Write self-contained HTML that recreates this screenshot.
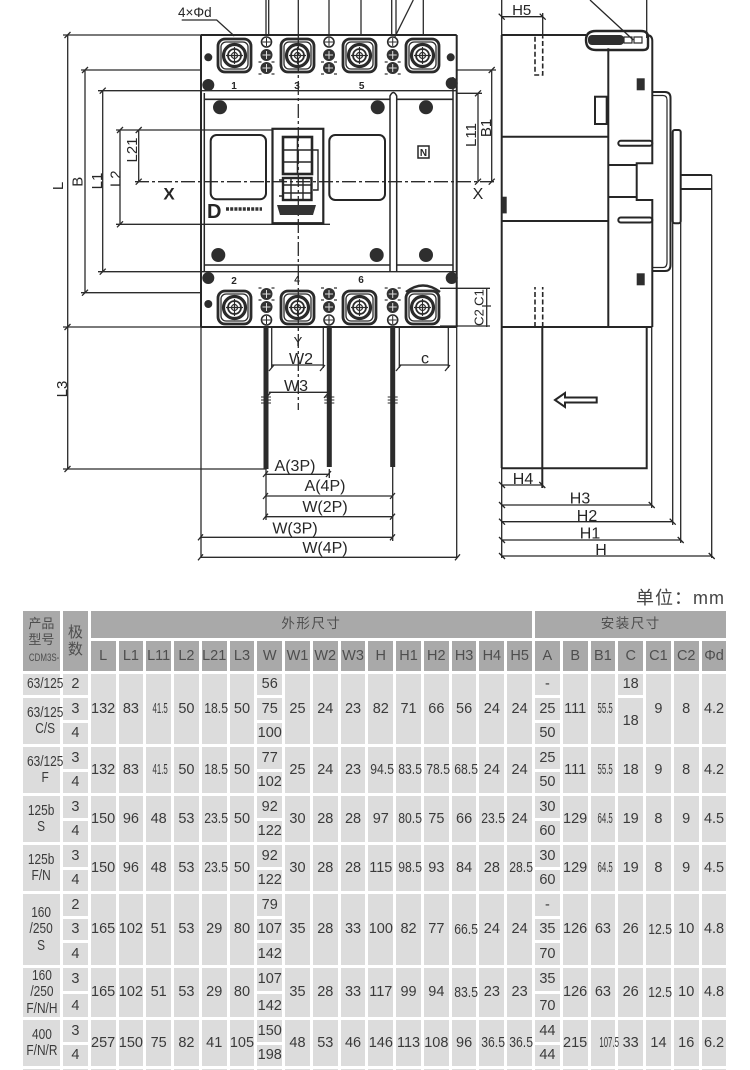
<!DOCTYPE html>
<html><head><meta charset="utf-8">
<style>
html,body{margin:0;padding:0;background:#fff;width:750px;height:1070px;overflow:hidden;}
#wrap{position:relative;width:750px;height:1070px;overflow:hidden;background:#fff;font-family:"Liberation Sans","Noto Sans CJK SC",sans-serif;}
svg text{font-family:"Liberation Sans",sans-serif;fill:#262626;}
.unit{position:absolute;left:636px;top:584px;font-size:18px;letter-spacing:1px;color:#444;font-family:"Liberation Sans","Noto Sans CJK SC",sans-serif;}
.t{position:absolute;left:19.7px;top:607.7px;width:709.8px;border-collapse:separate;border-spacing:3px 3px;table-layout:fixed;}
.t td,.t th{padding:0;background:#dcdcdc;color:#3a3a3a;font-size:14.5px;font-weight:normal;text-align:center;vertical-align:middle;white-space:nowrap;overflow:visible;line-height:16px;font-family:"Liberation Sans","Noto Sans CJK SC",sans-serif;}
.t th{background:#a9a9a9;color:#4e4e4e;}
.t tr.r{height:21.5px}
.t tr.h1{height:27px}
.t tr.h2{height:30px}
.t th.g{font-size:13.5px;letter-spacing:1.5px}
.d{display:inline-block;font-size:14.5px;transform:scaleX(.84);vertical-align:middle}
.k{display:inline-block;font-size:14.5px;transform:scaleX(.54);vertical-align:middle}
.m{display:inline-block;transform:scaleX(.82);line-height:16.5px}
.cdm{display:inline-block;font-size:11px;transform:scaleX(.72);line-height:14px}
.dash{font-weight:bold}
</style></head>
<body>
<div id="wrap">
<svg xmlns="http://www.w3.org/2000/svg" width="750" height="580" viewBox="0 0 750 580" style="position:absolute;left:0;top:0">
<defs>
 <g id="tm">
  <rect x="1" y="1" width="33" height="33" rx="7" fill="none" stroke="#2b2b2b" stroke-width="2.8"/>
  <rect x="4" y="4" width="27" height="27" rx="5" fill="none" stroke="#2b2b2b" stroke-width="1.3"/>
  <circle cx="17.5" cy="17.5" r="11" fill="none" stroke="#2b2b2b" stroke-width="3.2"/>
  <circle cx="17.5" cy="17.5" r="6.5" fill="none" stroke="#2b2b2b" stroke-width="1.8"/>
  <circle cx="17.5" cy="17.5" r="3" fill="none" stroke="#2b2b2b" stroke-width="1.2"/>
  <path d="M17.5 9v17M9 17.5h17" stroke="#2b2b2b" stroke-width="1.2"/>
 </g>
 <g id="sc">
  <circle cx="0" cy="13" r="6" fill="#333"/>
  <circle cx="0" cy="26" r="6" fill="#333"/>
  <path d="M-4 13h8M0 9v8M-4 26h8M0 22v8" stroke="#ddd" stroke-width="1"/>
  <path d="M-8 20h3M5 20h3M-8 32h3M5 32h3" stroke="#333" stroke-width="1.2"/>
  <circle cx="0" cy="0" r="5" fill="#fff" stroke="#2b2b2b" stroke-width="1.6"/>
  <path d="M-4 0h8M0 -4v8" stroke="#2b2b2b" stroke-width="1"/>
 </g>
</defs>

<!-- ===== FRONT VIEW ===== -->
<g stroke="#2b2b2b" fill="none" stroke-width="1.3">
 <path d="M266 0V35M268.7 0V35M298.3 0V35M329 0V35M361 0V35M391.7 0V35M396 0V35M423.3 0V35"/>
 <path d="M413.3 0L395 36.7"/>
 <path d="M181.7 20H216.7L234.3 36"/>
 <path d="M67.7 35V469M63 35H201M63 327H201M63 469H266"/>
 <path d="M85 70V292.7M81 70H201M81 292.7H201"/>
 <path d="M102.7 90.7V271.7M98 90.7H456.7M98 271.7H456.7"/>
 <path d="M120 130V224.3M116 130H272M116 224.3H330"/>
 <path d="M138.7 130V181.7"/>
 <path d="M64.5 38l6 -6M64.5 330l6 -6M64.5 472l6 -6M82 73l6 -6M82 295.7l6 -6M99.7 93.7l6 -6M99.7 274.7l6 -6M117 133l6 -6M117 227.3l6 -6M135.7 133l6 -6M135.7 184.7l6 -6"/>
 <path d="M135 181.7H496" stroke-dasharray="14 3 3 3"/>
 <path d="M298.3 35V410" stroke-dasharray="14 3 3 3"/>
 <path d="M478 93.3V181.7M456.7 93.3H482M491.7 70V181.7M456.7 70H496"/>
 <path d="M475 96.3l6 -6M475 184.7l6 -6M488.7 73l6 -6M488.7 184.7l6 -6"/>
 <path d="M440 288.3H490M440 326H490M486.7 288V327M482 306H491"/>
 <path d="M201 327V558M456.7 327V558"/>
 <path d="M271.7 327V368M323.3 327V368M399.3 327V368M448.3 327V368"/>
 <path d="M271.7 365H323.3M269 392.3H327M399.3 365H448.3"/>
 <path d="M266 469V520M329.3 469V478M392.7 467V541"/>
 <path d="M266 474.3H329.3M266 496H392.7M266 516.7H392.7M201 537.3H392.7M201 557.3H457.7"/>
 <path d="M269 371l5-6M320 371l5-6M266 398l5-6M324 398l5-6M396 371l5-6M445 371l5-6M263 477l5-6M326 477l5-6M263 499l5-6M390 499l5-6M263 519.7l5-6M390 519.7l5-6M198 540.3l5-6M390 540.3l5-6M198 560.3l5-6M455 560.3l5-6"/>
</g>

<g stroke="#262626" fill="none" stroke-width="2">
 <path d="M201 35H456.7M201 35V327M456.7 35V327M201 327H456.7"/>
 <path d="M204.3 93V272M453 77V277" stroke-width="1.5"/>
 <path d="M204.3 99.3H390M396.7 99.3H453M204.3 265H390M396.7 265H453" stroke-width="1.6"/>
 <path d="M390 272V96Q393.3 89 396.7 96V272" stroke-width="1.5"/>
 <rect x="210.7" y="135" width="55.3" height="64.3" rx="6"/>
 <rect x="329.3" y="135" width="55.7" height="65" rx="6"/>
 <rect x="272.5" y="128.8" width="50.8" height="94.4" stroke-width="2.2"/>
 <rect x="283" y="137" width="29" height="37" stroke-width="2.6"/>
 <path d="M297.5 137V174M283 150H312M283 162H312" stroke-width="1.6"/>
 <rect x="283" y="178" width="28.5" height="22" stroke-width="2.4"/>
 <path d="M283 185H311.5M283 193H311.5M291 178V200M303 178V200" stroke-width="1.4"/>
 <path d="M313 150H318V190H313M279 180H283M279 196H283" stroke-width="1.4"/>
 <rect x="418" y="146" width="11" height="12" stroke-width="1.5"/>
</g>
<path d="M277 205H316L313 215H280Z" fill="#333"/>
<path d="M226 209H262" stroke="#333" stroke-width="3.5" stroke-dasharray="3 1.2"/>
<text x="207" y="218" font-size="20" font-weight="bold">D</text>
<text x="423.5" y="156" font-size="10" font-weight="bold" text-anchor="middle">N</text>

<use href="#tm" x="217" y="38"/>
<use href="#tm" x="280" y="38"/>
<use href="#tm" x="342" y="38"/>
<use href="#tm" x="405" y="38"/>
<use href="#tm" x="217" y="290"/>
<use href="#tm" x="280" y="290"/>
<use href="#tm" x="342" y="290"/>
<use href="#tm" x="405" y="290"/>
<use href="#sc" x="266.5" y="42"/>
<use href="#sc" x="329" y="42"/>
<use href="#sc" x="392.7" y="42"/>
<g transform="translate(266.5,320) scale(1,-1)"><use href="#sc"/></g>
<g transform="translate(329,320) scale(1,-1)"><use href="#sc"/></g>
<g transform="translate(392.7,320) scale(1,-1)"><use href="#sc"/></g>
<path d="M406 292Q423 279 440 292" fill="none" stroke="#2b2b2b" stroke-width="2.5"/>

<g fill="#2e2e2e">
 <circle cx="220" cy="107.3" r="7"/><circle cx="377.7" cy="107.3" r="7"/><circle cx="426" cy="107.3" r="7"/>
 <circle cx="218.3" cy="255" r="7"/><circle cx="376.7" cy="255" r="7"/><circle cx="426" cy="255" r="7"/>
 <circle cx="208.3" cy="57.3" r="4"/><circle cx="208.3" cy="304" r="4"/><circle cx="450.7" cy="57.3" r="4"/>
 <circle cx="208.3" cy="85" r="6"/><circle cx="208.3" cy="278" r="6"/><circle cx="451.7" cy="83.3" r="6"/><circle cx="451.7" cy="278" r="6"/>
</g>

<g fill="#2b2b2b">
 <rect x="263.5" y="327" width="5" height="142"/>
 <rect x="326.8" y="327" width="5" height="140"/>
 <rect x="390.2" y="327" width="5" height="140"/>
</g>
<path d="M261 397h10M261 400h10M261 403h10M324.3 397h10M324.3 400h10M324.3 403h10M387.7 397h10M387.7 400h10M387.7 403h10" stroke="#2b2b2b" stroke-width="1"/>

<g font-size="15">
 <text x="178" y="17" font-size="13.5">4×Φd</text>
 <text transform="translate(58,186) rotate(-90)" text-anchor="middle" dy="5">L</text>
 <text transform="translate(77.5,181.7) rotate(-90)" text-anchor="middle" dy="5">B</text>
 <text transform="translate(97,181) rotate(-90)" text-anchor="middle" dy="5">L1</text>
 <text transform="translate(115.5,178.7) rotate(-90)" text-anchor="middle" dy="5">L2</text>
 <text transform="translate(132,150) rotate(-90)" text-anchor="middle" dy="5">L21</text>
 <text transform="translate(62,389) rotate(-90)" text-anchor="middle" dy="5">L3</text>
 <text transform="translate(471,135) rotate(-90)" text-anchor="middle" dy="5">L11</text>
 <text transform="translate(486,128) rotate(-90)" text-anchor="middle" dy="5">B1</text>
 <text transform="translate(479,297.5) rotate(-90)" text-anchor="middle" dy="4.5" font-size="13">C1</text>
 <text transform="translate(479,317.5) rotate(-90)" text-anchor="middle" dy="4.5" font-size="13">C2</text>
 <text x="169" y="199.5" font-size="17" font-weight="bold" text-anchor="middle">X</text>
 <text x="478" y="199" font-size="16" text-anchor="middle">X</text>
 <text x="234" y="89" font-size="10" font-weight="bold" text-anchor="middle">1</text>
 <text x="297" y="89" font-size="10" font-weight="bold" text-anchor="middle">3</text>
 <text x="361.7" y="89" font-size="10" font-weight="bold" text-anchor="middle">5</text>
 <text x="234" y="284" font-size="10" font-weight="bold" text-anchor="middle">2</text>
 <text x="297" y="283" font-size="10" font-weight="bold" text-anchor="middle">4</text>
 <text x="361" y="283" font-size="10" font-weight="bold" text-anchor="middle">6</text>
 <text x="298" y="346" font-size="13" text-anchor="middle">Y</text>
 <text x="301" y="364" font-size="16" text-anchor="middle">W2</text>
 <text x="296" y="391" font-size="16" text-anchor="middle">W3</text>
 <text x="425" y="363.5" font-size="16" text-anchor="middle">c</text>
 <text x="295" y="471" font-size="16" text-anchor="middle">A(3P)</text>
 <text x="325" y="491" font-size="16" text-anchor="middle">A(4P)</text>
 <text x="325" y="512" font-size="16" text-anchor="middle">W(2P)</text>
 <text x="295" y="533.5" font-size="16" text-anchor="middle">W(3P)</text>
 <text x="325" y="553" font-size="16" text-anchor="middle">W(4P)</text>
</g>

<!-- ===== SIDE VIEW ===== -->
<g stroke="#262626" fill="none" stroke-width="1.3">
 <path d="M501.7 0V35M501.7 468V558"/>
 <path d="M501.7 16.7H542.7M542.7 13V37M504.7 19.7l-6 -6M545.7 19.7l-6 -6"/>
 <path d="M590 0L633.3 40M646.7 0V38"/>
 <path d="M672.7 223V525M680.7 223V543M711.7 175V558M651.7 327V508"/>
 <path d="M501.7 485H542.3M501.7 505H651.7M501.7 521.7H672.7M501.7 540H680.7M501.7 556H711.7"/>
 <path d="M505 488l-6 -6M545.3 488l-6 -6M505 508l-6 -6M654.7 508l-6 -6M505 524.7l-6 -6M675.7 524.7l-6 -6M505 543l-6 -6M683.7 543l-6 -6M505 559l-6 -6M714.7 559l-6 -6"/>
 <path d="M535 36.7V75H542.7V36.7M535 327V287M542.7 327V287" stroke-dasharray="5 2.5" stroke-width="1.6"/>
</g>
<g stroke="#262626" fill="none" stroke-width="2">
 <path d="M501.7 35V468"/>
 <path d="M501.7 35H586"/>
 <path d="M586 40Q586 31 596 31H641Q648 31 648 37V46Q648 50 643 50H596Q586 50 586 40Z" stroke-width="2.4"/>
 <path d="M646.7 35Q652.3 35 652.3 41V163.3H636.7V200H652.3V327"/>
 <path d="M608.3 48.3V326.7M608.3 165H636.7M608.3 197H636.7"/>
 <path d="M501.7 136.7H608.3M501.7 221H608.3"/>
 <rect x="595" y="96.7" width="11.7" height="27.3"/>
 <path d="M652.3 92H665Q670.5 92 670.5 98V265Q670.5 271 665 271H652.3"/>
 <path d="M652.3 95.5H663Q667 95.5 667 100V262Q667 267.5 663 267.5H652.3" stroke-width="1.2"/>
 <rect x="618.3" y="140.8" width="34" height="5" rx="2.5"/>
 <rect x="618.3" y="217.5" width="34" height="5" rx="2.5"/>
 <rect x="672.7" y="130" width="8" height="93.3" rx="2"/>
 <path d="M680.7 175H711.7M680.7 189H711.7"/>
 <path d="M501.7 327H652.3M646.7 327.7V468.3H501.7M542.3 327.7V488"/>
 <path d="M555 400L565 393V397.5H596.7V402.5H565V407Z"/>
</g>
<g fill="#2e2e2e">
 <rect x="588" y="35" width="36" height="10" rx="4"/>
 <rect x="636.7" y="78.3" width="8" height="12"/>
 <rect x="636.7" y="273.3" width="8" height="12"/>
 <rect x="501.7" y="196.7" width="5" height="16.7"/>
</g>
<path d="M624 37h8v6h-8zM634 37h8v6h-8z" fill="none" stroke="#2e2e2e" stroke-width="1.2"/>
<g font-size="16" text-anchor="middle">
 <text x="521.7" y="15" font-size="15">H5</text>
 <text x="523" y="484">H4</text>
 <text x="580" y="503.5">H3</text>
 <text x="587" y="521">H2</text>
 <text x="590" y="538.5">H1</text>
 <text x="601" y="555">H</text>
</g>
</svg>

<div class="unit">单位：mm</div>

<table class="t">
<colgroup>
<col style="width:37.3px"><col style="width:24.77px">
<col style="width:24.77px"><col style="width:24.77px"><col style="width:24.77px"><col style="width:24.77px"><col style="width:24.77px"><col style="width:24.77px">
<col style="width:24.77px"><col style="width:24.77px"><col style="width:24.77px"><col style="width:24.77px">
<col style="width:24.77px"><col style="width:24.77px"><col style="width:24.77px"><col style="width:24.77px"><col style="width:24.77px"><col style="width:24.77px">
<col style="width:24.77px"><col style="width:24.77px"><col style="width:24.77px"><col style="width:24.77px"><col style="width:24.77px"><col style="width:24.77px"><col style="width:24.77px">
</colgroup>
<tr class="h1">
<th rowspan="2" style="font-size:13px;line-height:16.5px">产品<br>型号<br><span class="cdm">CDM3S-</span></th>
<th rowspan="2" style="font-size:15px;line-height:17px">极<br>数</th>
<th colspan="16" class="g">外形尺寸</th>
<th colspan="7" class="g">安装尺寸</th>
</tr>
<tr class="h2">
<th>L</th><th>L1</th><th>L11</th><th>L2</th><th>L21</th><th>L3</th><th>W</th><th>W1</th><th>W2</th><th>W3</th><th>H</th><th>H1</th><th>H2</th><th>H3</th><th>H4</th><th>H5</th><th>A</th><th>B</th><th>B1</th><th>C</th><th>C1</th><th>C2</th><th>Φd</th>
</tr>

<tr class="r">
<td><span class="m">63/125</span></td><td>2</td>
<td rowspan="3">132</td><td rowspan="3">83</td><td rowspan="3"><span class="k">41.5</span></td><td rowspan="3">50</td><td rowspan="3"><span class="d">18.5</span></td><td rowspan="3">50</td>
<td>56</td>
<td rowspan="3">25</td><td rowspan="3">24</td><td rowspan="3">23</td>
<td rowspan="3">82</td><td rowspan="3">71</td><td rowspan="3">66</td><td rowspan="3">56</td><td rowspan="3">24</td><td rowspan="3">24</td>
<td class="dash">-</td>
<td rowspan="3">111</td><td rowspan="3"><span class="k">55.5</span></td>
<td>18</td>
<td rowspan="3">9</td><td rowspan="3">8</td><td rowspan="3">4.2</td>
</tr>
<tr class="r"><td rowspan="2"><span class="m">63/125<br>C/S</span></td><td>3</td><td>75</td><td>25</td><td rowspan="2">18</td></tr>
<tr class="r"><td>4</td><td>100</td><td>50</td></tr>

<tr class="r">
<td rowspan="2"><span class="m">63/125<br>F</span></td><td>3</td>
<td rowspan="2">132</td><td rowspan="2">83</td><td rowspan="2"><span class="k">41.5</span></td><td rowspan="2">50</td><td rowspan="2"><span class="d">18.5</span></td><td rowspan="2">50</td>
<td>77</td>
<td rowspan="2">25</td><td rowspan="2">24</td><td rowspan="2">23</td>
<td rowspan="2"><span class="d">94.5</span></td><td rowspan="2"><span class="d">83.5</span></td><td rowspan="2"><span class="d">78.5</span></td><td rowspan="2"><span class="d">68.5</span></td><td rowspan="2">24</td><td rowspan="2">24</td>
<td>25</td>
<td rowspan="2">111</td><td rowspan="2"><span class="k">55.5</span></td><td rowspan="2">18</td><td rowspan="2">9</td><td rowspan="2">8</td><td rowspan="2">4.2</td>
</tr>
<tr class="r"><td>4</td><td>102</td><td>50</td></tr>

<tr class="r">
<td rowspan="2"><span class="m">125b<br>S</span></td><td>3</td>
<td rowspan="2">150</td><td rowspan="2">96</td><td rowspan="2">48</td><td rowspan="2">53</td><td rowspan="2"><span class="d">23.5</span></td><td rowspan="2">50</td>
<td>92</td>
<td rowspan="2">30</td><td rowspan="2">28</td><td rowspan="2">28</td>
<td rowspan="2">97</td><td rowspan="2"><span class="d">80.5</span></td><td rowspan="2">75</td><td rowspan="2">66</td><td rowspan="2"><span class="d">23.5</span></td><td rowspan="2">24</td>
<td>30</td>
<td rowspan="2">129</td><td rowspan="2"><span class="k">64.5</span></td><td rowspan="2">19</td><td rowspan="2">8</td><td rowspan="2">9</td><td rowspan="2">4.5</td>
</tr>
<tr class="r"><td>4</td><td>122</td><td>60</td></tr>

<tr class="r">
<td rowspan="2"><span class="m">125b<br>F/N</span></td><td>3</td>
<td rowspan="2">150</td><td rowspan="2">96</td><td rowspan="2">48</td><td rowspan="2">53</td><td rowspan="2"><span class="d">23.5</span></td><td rowspan="2">50</td>
<td>92</td>
<td rowspan="2">30</td><td rowspan="2">28</td><td rowspan="2">28</td>
<td rowspan="2">115</td><td rowspan="2"><span class="d">98.5</span></td><td rowspan="2">93</td><td rowspan="2">84</td><td rowspan="2">28</td><td rowspan="2"><span class="d">28.5</span></td>
<td>30</td>
<td rowspan="2">129</td><td rowspan="2"><span class="k">64.5</span></td><td rowspan="2">19</td><td rowspan="2">8</td><td rowspan="2">9</td><td rowspan="2">4.5</td>
</tr>
<tr class="r"><td>4</td><td>122</td><td>60</td></tr>

<tr class="r">
<td rowspan="3"><span class="m">160<br>/250<br>S</span></td><td>2</td>
<td rowspan="3">165</td><td rowspan="3">102</td><td rowspan="3">51</td><td rowspan="3">53</td><td rowspan="3">29</td><td rowspan="3">80</td>
<td>79</td>
<td rowspan="3">35</td><td rowspan="3">28</td><td rowspan="3">33</td>
<td rowspan="3">100</td><td rowspan="3">82</td><td rowspan="3">77</td><td rowspan="3"><span class="d">66.5</span></td><td rowspan="3">24</td><td rowspan="3">24</td>
<td class="dash">-</td>
<td rowspan="3">126</td><td rowspan="3">63</td><td rowspan="3">26</td><td rowspan="3"><span class="d">12.5</span></td><td rowspan="3">10</td><td rowspan="3">4.8</td>
</tr>
<tr class="r"><td>3</td><td>107</td><td>35</td></tr>
<tr class="r"><td>4</td><td>142</td><td>70</td></tr>

<tr class="r">
<td rowspan="2"><span class="m">160<br>/250<br>F/N/H</span></td><td>3</td>
<td rowspan="2">165</td><td rowspan="2">102</td><td rowspan="2">51</td><td rowspan="2">53</td><td rowspan="2">29</td><td rowspan="2">80</td>
<td>107</td>
<td rowspan="2">35</td><td rowspan="2">28</td><td rowspan="2">33</td>
<td rowspan="2">117</td><td rowspan="2">99</td><td rowspan="2">94</td><td rowspan="2"><span class="d">83.5</span></td><td rowspan="2">23</td><td rowspan="2">23</td>
<td>35</td>
<td rowspan="2">126</td><td rowspan="2">63</td><td rowspan="2">26</td><td rowspan="2"><span class="d">12.5</span></td><td rowspan="2">10</td><td rowspan="2">4.8</td>
</tr>
<tr class="r"><td>4</td><td>142</td><td>70</td></tr>

<tr class="r">
<td rowspan="2"><span class="m">400<br>F/N/R</span></td><td>3</td>
<td rowspan="2">257</td><td rowspan="2">150</td><td rowspan="2">75</td><td rowspan="2">82</td><td rowspan="2">41</td><td rowspan="2">105</td>
<td>150</td>
<td rowspan="2">48</td><td rowspan="2">53</td><td rowspan="2">46</td>
<td rowspan="2">146</td><td rowspan="2">113</td><td rowspan="2">108</td><td rowspan="2">96</td><td rowspan="2"><span class="d">36.5</span></td><td rowspan="2"><span class="d">36.5</span></td>
<td>44</td>
<td rowspan="2">215</td><td rowspan="2"><span class="k">107.5</span></td><td rowspan="2">33</td><td rowspan="2">14</td><td rowspan="2">16</td><td rowspan="2">6.2</td>
</tr>
<tr class="r"><td>4</td><td>198</td><td>44</td></tr>

<tr class="r">
<td></td><td></td><td></td><td></td><td></td><td></td><td></td><td></td><td></td><td></td><td></td><td></td><td></td><td></td><td></td><td></td><td></td><td></td><td></td><td></td><td></td><td></td><td></td><td></td><td></td>
</tr>
</table>
</div>
</body></html>
